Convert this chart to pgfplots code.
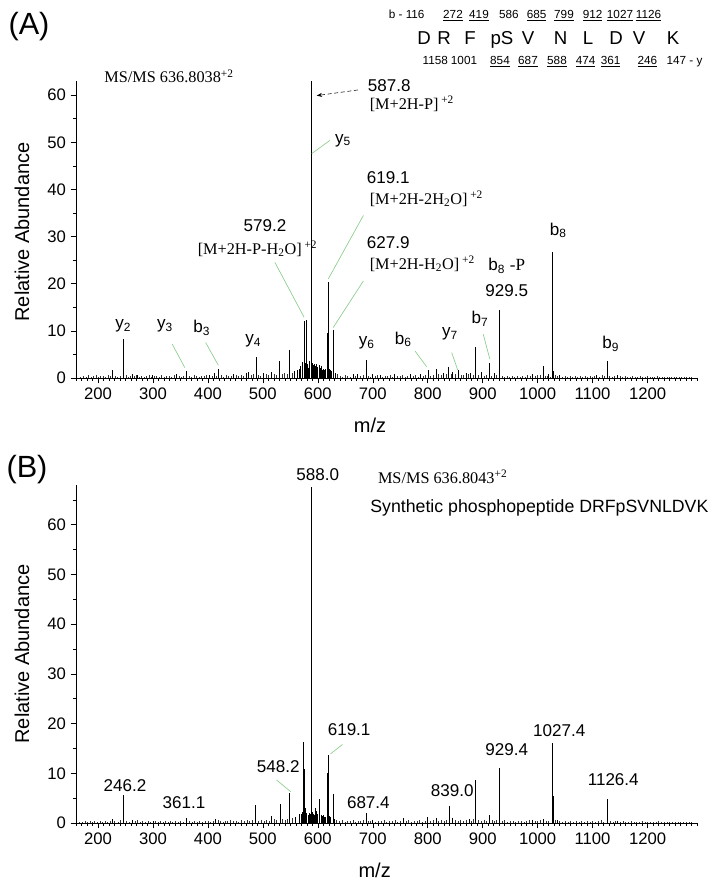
\documentclass[border=0pt]{standalone}
\usepackage{fontspec}
\setmainfont{Liberation Sans}
\newfontfamily\tnr{Liberation Serif}
\usepackage{pgfplots}
\pgfplotsset{compat=1.18}
\usetikzlibrary{arrows.meta}
\definecolor{lg}{RGB}{140,205,140}

\newcommand{\ann}{\fontsize{12.8}{14}\selectfont}
\newcommand{\sann}{\tnr\fontsize{12.2}{14}\selectfont}

\pgfplotsset{msaxis/.style={
    scale only axis, width=465.75pt,
    xmin=160, xmax=1290, ymin=0,
    axis x line*=bottom, axis y line*=left,
    axis line style={-, line width=0.5pt},
    tick align=outside, major tick length=4pt, minor tick length=2pt,
    tick style={black, line width=0.4pt},
    xtick={200,300,...,1200}, minor xtick={160,170,...,1290},
    ytick={0,10,...,60}, minor ytick={5,15,...,65},
    tick label style={font=\fontsize{12.5}{13}\selectfont},
    /pgf/number format/assume math mode=true,
    /pgf/number format/1000 sep={},
    scaled ticks=false, clip=false,
}}

\begin{document}
\begin{tikzpicture}[x=1pt,y=1pt]
\path[use as bounding box] (0,0) rectangle (537,665.25);

% ---------- panel A ----------
\node[font=\fontsize{23}{25}\selectfont] at (21.75,645) {(A)};
\node[rotate=90, font=\fontsize{15}{17}\selectfont] at (16.5,491.25) {Relative Abundance};
\node[font=\fontsize{15}{17}\selectfont] at (277.5,346.5) {m/z};

% peptide ladder
\begin{scope}[font=\fontsize{8.8}{9}\selectfont, every node/.style={anchor=base}]
\node at (305,651.5) {b - 116};
\node at (339.75,651.5) {\underline{272}};
\node at (359.25,651.5) {\underline{419}};
\node at (381.6,651.5) {586};
\node at (402.4,651.5) {\underline{685}};
\node at (423,651.5) {\underline{799}};
\node at (444.4,651.5) {\underline{912}};
\node at (465,651.5) {\underline{1027}};
\node at (486.4,651.5) {\underline{1126}};
\node at (326.5,617) {1158};
\node at (348,617) {1001};
\node at (375,617) {\underline{854}};
\node at (396,617) {\underline{687}};
\node at (417.75,617) {\underline{588}};
\node at (439.2,617) {\underline{474}};
\node at (457.9,617) {\underline{361}};
\node at (485.6,617) {\underline{246}};
\node at (513.4,617) {147 - y};
\end{scope}
\begin{scope}[font=\fontsize{14}{15}\selectfont, every node/.style={anchor=base}]
\node at (318,631.7) {D};
\node at (333,631.7) {R};
\node at (352.5,631.7) {F};
\node at (376.5,631.7) {pS};
\node at (396,631.7) {V};
\node at (420.5,631.7) {N};
\node at (441,631.7) {L};
\node at (462,631.7) {D};
\node at (479.3,631.7) {V};
\node at (504.8,631.7) {K};
\end{scope}

\begin{axis}[msaxis, at={(57pt,381.75pt)}, anchor=south west,
    height=222.75pt, ymax=63]
% noise floor
\addplot[ycomb, mark=none, black!80, line width=0.35pt] coordinates {
(168,.3) (173,.5) (178,.2) (182,.6) (187,.3) (191,.4) (196,.7) (201,.3) (205,.5) (210,.4)
(214,.2) (219,.6) (223,.4) (231,.5) (235,.3) (240,.4) (251,.6) (255,.3) (259,.5) (266,.4)
(270,.7) (275,.3) (279,.5) (284,.2) (288,.4) (293,.6) (297,.3) (302,.5) (306,.4) (311,.3)
(315,.6) (320,.2) (324,.5) (329,.4) (333,.3) (338,.6) (347,.4) (352,.3) (356,.5) (366,.4)
(370,.3) (375,.6) (379,.4) (384,.2) (388,.5) (393,.4) (397,.6) (407,.5) (416,.4) (424,.6)
(428,.3) (433,.7) (437,.5) (442,.4) (451,.6) (455,.5) (460,.7) (464,.4) (479,.6) (483,.8)
(492,.7) (496,.5) (506,.8) (510,.6) (520,.9) (525,.7) (535,.8) (539,1.0) (544,.9) (553,1.1)
(636,.8) (640,.5) (645,.3) (649,.6) (654,.4) (659,.3) (668,.5) (677,.4) (682,.6) (692,.5)
(696,.3) (705,.4) (709,.6) (718,.3) (722,.5) (727,.4) (731,.6) (736,.3) (745,.5) (750,.4)
(754,.6) (759,.3) (763,.5) (773,.4) (777,.6) (782,.3) (791,.5) (796,.7) (805,.5) (810,.6)
(819,.8) (824,.7) (833,.9) (842,.8) (850,.9) (861,.7) (865,.6) (874,.8) (882,.7) (892,.6)
(902,.5) (907,.7) (916,.5) (925,.6) (935,.4) (940,.3) (944,.5) (949,.3) (954,.4) (958,.2)
(963,.4) (968,.3) (972,.5) (977,.3) (981,.6) (986,.4) (995,.5) (1000,.7) (1004,.6) (1014,.5)
(1018,.4) (1023,.3) (1032,.6) (1036,.4) (1045,.3) (1050,.5) (1054,.3) (1059,.4) (1063,.2) (1068,.4)
(1072,.3) (1077,.5) (1081,.3) (1086,.4) (1090,.2) (1095,.4) (1099,.3) (1103,.5) (1112,.3) (1117,.6)
(1121,.4) (1131,.5) (1136,.3) (1140,.5) (1150,.4) (1154,.3) (1159,.4) (1163,.2) (1168,.3) (1172,.4)
(1177,.2) (1181,.3) (1186,.4) (1190,.2) (1195,.3) (1199,.4) (1204,.2) (1208,.3) (1213,.2) (1217,.4)
(1222,.2) (1226,.3) (1231,.2) (1235,.3) (1240,.2) (1244,.3) (1249,.2) (1253,.3) (1258,.2) (1262,.3)
(1267,.2) (1271,.2) (1276,.3) (1280,.2)};
% peaks
\addplot[ycomb, mark=none, black, line width=0.5pt] coordinates {
(226.5,1.6) (246.1,8.2) (262,0.8) (272,0.6) (298,0.7) (343,0.9) (361.1,1.5) (403,0.7)
(412,1.0) (419.2,2.0) (446,0.8) (470,1.0) (474,1.2) (487.3,4.5) (501,1.0) (515,1.3)
(530.2,3.6) (548.3,6.0) (557,1.4) (562,1.8) (566,2.0) (569,2.6) (572,3.4) (574.8,12.0)
(577,3.2) (579.2,12.4) (581,3.0) (583,2.2) (585,3.5) (587.8,63.0) (588.3,47.5) (590,3.2)
(592,2.8) (594,3.0) (596,2.6) (598,2.9) (600,2.4) (602,2.7) (604,2.2) (606,2.5)
(608,1.8) (610,2.0) (612,1.6) (614,1.9) (617.0,9.5) (618.2,6.5) (619.1,20.3) (621,2.0)
(623,1.6) (625,1.4) (627.9,10.2) (631,1.0) (664,0.8) (672,0.9) (687.4,3.9) (700,0.9)
(713,0.7) (740,0.8) (768,0.9) (787,0.8) (800.2,1.7) (815.4,2.0) (828,1.1) (838.4,2.4)
(845,1.3) (856.5,1.6) (870,1.0) (877,1.1) (887.4,6.6) (897,1.2) (912.3,3.2) (921,1.0)
(929.5,14.5) (930.4,4.8) (990,0.9) (1009.5,2.6) (1020,0.8) (1027.4,26.8) (1028.4,1.5) (1040,0.6)
(1107,0.7) (1126.4,3.5) (1127.4,1.2) (1145,0.6)};

% annotations
\node[anchor=west, font=\sann] at (axis cs:203,64) {MS/MS 636.8038\textsuperscript{+2}};
\node[font=\ann] at (axis cs:730,62) {587.8};
\node[anchor=west, font=\sann] at (axis cs:686,58.2) {[M+2H-P]\,\textsuperscript{+2}};
\draw[densely dashed, -{Stealth[length=4pt,width=3pt]}, line width=0.4pt] (axis cs:673,61.1) -- (axis cs:598,59.9);
\node[font=\ann] at (axis cs:646,50.4) {y\textsubscript{5}};
\draw[lg, line width=0.5pt] (axis cs:622,50.4) -- (axis cs:589,47.6);
\node[font=\ann] at (axis cs:728,42.6) {619.1};
\node[anchor=west, font=\sann] at (axis cs:686,38) {[M+2H-2H\textsubscript{2}O]\,\textsuperscript{+2}};
\draw[lg, line width=0.5pt] (axis cs:683,34.5) -- (axis cs:619,21);
\node[font=\ann] at (axis cs:728,28.8) {627.9};
\node[anchor=west, font=\sann] at (axis cs:686,24.2) {[M+2H-H\textsubscript{2}O]\,\textsuperscript{+2}};
\draw[lg, line width=0.5pt] (axis cs:683,20.6) -- (axis cs:628,10.7);
\node[font=\ann] at (axis cs:504,32.3) {579.2};
\node[anchor=west, font=\sann] at (axis cs:373,27.4) {[M+2H-P-H\textsubscript{2}O]\,\textsuperscript{+2}};
\draw[lg, line width=0.5pt] (axis cs:522,24.5) -- (axis cs:575,12.9);
\node[font=\ann] at (axis cs:246,11.1) {y\textsubscript{2}};
\node[font=\ann] at (axis cs:322,11.1) {y\textsubscript{3}};
\draw[lg, line width=0.5pt] (axis cs:335,7.2) -- (axis cs:358,2.2);
\node[font=\ann] at (axis cs:389,10.7) {b\textsubscript{3}};
\draw[lg, line width=0.5pt] (axis cs:396,7.5) -- (axis cs:419,2.7);
\node[font=\ann] at (axis cs:482.6,7.9) {y\textsubscript{4}};
\node[font=\ann] at (axis cs:689,7.5) {y\textsubscript{6}};
\node[font=\ann] at (axis cs:755.5,8.2) {b\textsubscript{6}};
\draw[lg, line width=0.5pt] (axis cs:777,5.7) -- (axis cs:798,2.4);
\node[font=\ann] at (axis cs:840.5,9.3) {y\textsubscript{7}};
\draw[lg, line width=0.5pt] (axis cs:843.6,5.4) -- (axis cs:854.5,1.7);
\node[font=\ann] at (axis cs:895,12.5) {b\textsubscript{7}};
\draw[lg, line width=0.5pt] (axis cs:901,9.3) -- (axis cs:913,4);
\node[font=\ann] at (axis cs:943.6,23.8) {b\textsubscript{8} {\tnr -P}};
\node[font=\ann] at (axis cs:943.6,18.5) {929.5};
\node[font=\ann] at (axis cs:1037.5,31.3) {b\textsubscript{8}};
\node[font=\ann] at (axis cs:1133,7.2) {b\textsubscript{9}};
\end{axis}

% ---------- panel B ----------
\node[font=\fontsize{23}{25}\selectfont] at (20.25,312.75) {(B)};
\node[rotate=90, font=\fontsize{15}{17}\selectfont] at (16.5,174.75) {Relative Abundance};
\node[font=\fontsize{15}{17}\selectfont] at (281,12.75) {m/z};

\begin{axis}[msaxis, at={(57pt,48pt)}, anchor=south west,
    height=253.5pt, ymax=68]
\addplot[ycomb, mark=none, black!80, line width=0.35pt] coordinates {
(166,.3) (171,.2) (176,.4) (181,.3) (185,.5) (190,.2) (194,.4) (199,.3) (204,.5) (208,.2)
(213,.4) (217,.3) (222,.5) (230,.4) (236,.3) (241,.6) (251,.4) (256,.3) (267,.4) (271,.6)
(276,.3) (281,.5) (286,.3) (291,.4) (295,.2) (304,.4) (309,.3) (313,.5) (318,.3) (322,.4)
(327,.2) (332,.5) (336,.3) (341,.4) (346,.3) (350,.5) (355,.3) (366,.4) (371,.3) (376,.5)
(380,.3) (385,.4) (390,.3) (395,.5) (400,.4) (405,.3) (409,.5) (418,.6) (422,.4) (427,.3)
(431,.5) (436,.4) (441,.6) (446,.4) (451,.5) (456,.3) (461,.6) (466,.5) (471,.7) (476,.5)
(481,.6) (492,.5) (497,.7) (502,.5) (507,.6) (511,.4) (520,.8) (525,.6) (536,.9) (541,.7)
(545,.8) (553,1.0) (634,.6) (639,.4) (644,.6) (649,.3) (654,.5) (659,.4) (664,.6) (668,.3)
(673,.5) (678,.4) (683,.6) (692,.4) (696,.5) (705,.3) (710,.5) (715,.4) (720,.6) (725,.3)
(730,.5) (735,.4) (740,.6) (745,.3) (750,.5) (760,.4) (765,.6) (770,.3) (775,.5) (780,.4)
(785,.6) (790,.3) (795,.5) (805,.4) (810,.6) (820,.5) (825,.7) (830,.4) (834,.6) (844,.5)
(850,.7) (855,.4) (860,.6) (865,.5) (870,.7) (880,.5) (883,.8) (892,.6) (897,.5) (902,.7)
(907,.4) (917,.6) (921,.5) (925,.7) (935,.4) (940,.6) (945,.3) (950,.5) (955,.4) (960,.3)
(965,.5) (970,.4) (975,.3) (980,.5) (985,.6) (995,.4) (1000,.5) (1005,.7) (1015,.4) (1020,.5)
(1032,.6) (1040,.4) (1045,.3) (1050,.5) (1055,.3) (1060,.4) (1065,.3) (1070,.5) (1075,.3) (1080,.4)
(1085,.2) (1090,.4) (1095,.3) (1100,.5) (1105,.3) (1110,.4) (1115,.6) (1120,.3) (1132,.4) (1137,.3)
(1142,.5) (1150,.3) (1155,.4) (1160,.2) (1165,.3) (1170,.4) (1175,.2) (1180,.3) (1185,.2) (1190,.4)
(1195,.2) (1200,.3) (1205,.2) (1210,.3) (1215,.2) (1220,.4) (1225,.2) (1230,.3) (1235,.2) (1240,.3)
(1245,.2) (1250,.3) (1255,.2) (1260,.3) (1265,.2) (1270,.3) (1275,.2) (1280,.2)};
\addplot[ycomb, mark=none, black, line width=0.5pt] coordinates {
(226,0.8) (246.2,5.7) (262,0.6) (300,0.5) (361.1,1.1) (413,0.9) (487.2,3.7) (515,1.5)
(531.2,3.9) (548.2,6.1) (560,1.2) (566,1.8) (570,1.9) (572,2.3) (574.5,16.3) (576.2,10.8)
(578,3.0) (580,2.0) (582,1.6) (584,2.1) (586,1.8) (588.0,67.5) (590,2.2) (592,1.9)
(594,1.7) (596,3.0) (598,2.5) (600,1.9) (603.3,4.9) (606,1.6) (608,1.4) (610,1.7)
(612,1.3) (614,1.2) (617.1,10.0) (619.1,13.7) (621,1.5) (623,1.2) (627.5,5.8) (630,0.8)
(687.4,2.1) (700,0.7) (755,1.0) (800,1.2) (815,1.1) (839.0,3.5) (845,1.0) (875,0.8)
(887.4,8.7) (912.4,1.7) (929.4,11.0) (930.4,4.6) (990,0.7) (1010,0.9) (1027.4,16.0) (1028.4,5.5)
(1036,0.6) (1126.4,4.8) (1127.4,1.5) (1145,0.5)};

\node[font=\ann] at (axis cs:600,70) {588.0};
\node[anchor=west, font=\sann] at (axis cs:701,69.6) {MS/MS 636.8043\textsuperscript{+2}};
\node[anchor=west, font=\fontsize{13.3}{15}\selectfont] at (axis cs:687,63.4) {Synthetic phosphopeptide DRFpSVNLDVK};
\node[font=\ann] at (axis cs:249,7.6) {246.2};
\node[font=\ann] at (axis cs:356.5,4) {361.1};
\node[font=\ann] at (axis cs:528,11.3) {548.2};
\draw[lg, line width=0.5pt] (axis cs:525,8.65) -- (axis cs:550.6,6.3);
\node[font=\ann] at (axis cs:657,18.7) {619.1};
\draw[lg, line width=0.5pt] (axis cs:645,15.8) -- (axis cs:623,13.9);
\node[font=\ann] at (axis cs:692,4.0) {687.4};
\node[font=\ann] at (axis cs:844.7,6.6) {839.0};
\node[font=\ann] at (axis cs:943.6,14.7) {929.4};
\node[font=\ann] at (axis cs:1039.4,18.6) {1027.4};
\node[font=\ann] at (axis cs:1137.6,8.8) {1126.4};
\end{axis}
\end{tikzpicture}
\end{document}
